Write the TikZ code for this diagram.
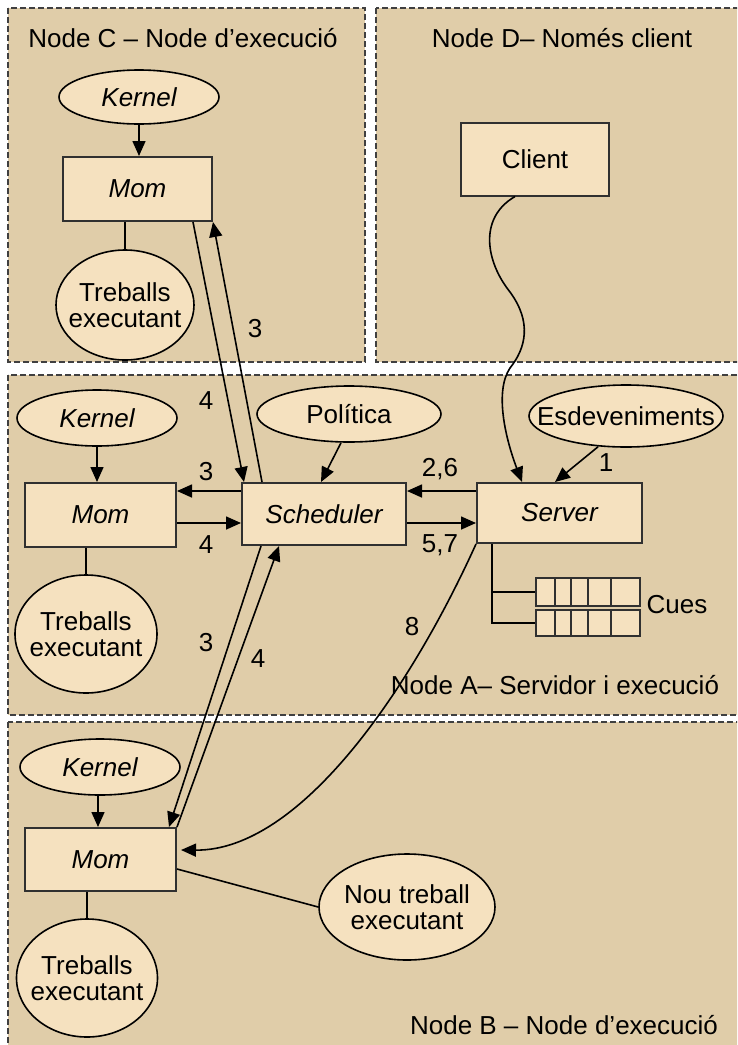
\documentclass[tikz,border=0pt]{standalone}
\usepackage{fontspec}
\setmainfont{Liberation Sans}
\usetikzlibrary{arrows.meta,shapes.geometric,calc}
\definecolor{panel}{HTML}{E0CDA9}
\definecolor{boxfill}{HTML}{F5E1BF}
\definecolor{edge}{HTML}{303030}
\begin{document}
\begin{tikzpicture}[x=1pt,y=-1pt,
  font=\fontsize{26}{29}\selectfont,
  panelbox/.style={draw=black!75, fill=panel, dash pattern=on 6pt off 3pt, line width=1.6pt},
  rectbox/.style={draw=edge, fill=boxfill, line width=2pt, inner sep=0pt},
  % the ellipse keeps its given size; its text is set as a centred label
  oval/.style={ellipse, draw=black, fill=boxfill, line width=1.6pt, inner sep=0pt,
    label={[inner sep=0pt, align=center]center:#1}},
  conn/.style={line width=1.6pt, draw=black},
  arr/.style={conn, -{Triangle[length=15pt,width=13pt]}},
  lbl/.style={inner sep=0pt},
  queue/.style={draw=edge, fill=boxfill, line width=2pt, inner sep=0pt, minimum width=104pt}
]
\useasboundingbox (0,0) rectangle (737,1045);
\clip (0,0) rectangle (737,1045);
\fill[white] (0,0) rectangle (737,1045);

% the four machines
\draw[panelbox] (8,8) rectangle (365,362);
\draw[panelbox] (376,8) rectangle (748,362);
\draw[panelbox] (8,375) rectangle (748,715);
\draw[panelbox] (8,722) rectangle (748,1060);

\node[lbl] (titleC) at (183,38) {Node C – Node d’execució};
\node[lbl] (titleD) at (562,38) {Node D– Només client};
\node[lbl] (titleA) at (555,685) {Node A– Servidor i execució};
\node[lbl] (titleB) at (564,1025) {Node B – Node d’execució};

% Node C
\node[oval={\itshape Kernel}, minimum width=160pt, minimum height=54pt] (kernelC) at (139,97) {};
\node[rectbox, minimum width=149pt, minimum height=64pt] (momC) at (137.5,189) {\itshape Mom};
\node[oval={Treballs\\[-3pt]executant}, minimum width=138pt, minimum height=110pt] (jobsC) at (125,305) {};
\draw[arr] (kernelC.south) -- (momC.north -| kernelC.south);
\draw[conn] (momC.south -| jobsC) -- (jobsC.north);

% Node D
\node[rectbox, minimum width=148pt, minimum height=73pt] (client) at (535,159) {Client};

% Node A
\node[oval={\itshape Kernel}, minimum width=160pt, minimum height=56pt] (kernelA) at (97,418) {};
\node[rectbox, minimum width=151pt, minimum height=64pt] (momA) at (100.5,515) {\itshape Mom};
\node[oval={Treballs\\[-3pt]executant}, minimum width=142pt, minimum height=118pt] (jobsA) at (86,634) {};
\draw[arr] (kernelA.south) -- (momA.north -| kernelA.south);
\draw[conn] (momA.south -| jobsA) -- (jobsA.north);

\node[oval={Política}, minimum width=184pt, minimum height=56pt] (policy) at (349,414) {};
\node[oval={Esdeveniments}, minimum width=194pt, minimum height=62pt] (events) at (626,416) {};
\node[rectbox, minimum width=164pt, minimum height=62pt] (sched) at (324,514) {\itshape Scheduler};
\node[rectbox, minimum width=165pt, minimum height=60pt] (server) at (559.5,513) {\itshape Server};

\draw[arr] ($(policy.south)+(-8,0)$) -- ($(sched.north)+(-3,0)$);
\draw[arr] ($(events.south)+(-28,-1)$) -- ($(server.north west)+(79,0)$);
\node[lbl] (n1) at (606,463) {1};

\draw[arr] ([yshift=-9pt]server.north west) -- ([yshift=-9pt]sched.north east);
\draw[arr] ([yshift=-41pt]sched.north east) -- ([yshift=-41pt]server.north west);
\node[lbl] (n26) at (440,469) {2,6};
\node[lbl] (n57) at (440,545) {5,7};

\draw[arr] ([yshift=-9pt]sched.north west) -- ([yshift=-9pt]momA.north east);
\draw[arr] ([yshift=-41pt]momA.north east) -- ([yshift=-41pt]sched.north west);
\node[lbl] (n3a) at (206,472) {3};
\node[lbl] (n4a) at (206,545) {4};

% queues
\node[queue, minimum height=28pt] (q1) at (588,592) {};
\node[queue, minimum height=26pt] (q2) at (588,623) {};
\foreach \q in {q1,q2}
  \foreach \dx in {20,36,53,76}
    \draw[draw=edge, line width=2pt] ($(\q.north west)+(\dx,0)$) -- ($(\q.south west)+(\dx,0)$);
\draw[conn] ([xshift=16pt]server.south west) |- (q2.west);
\draw[conn] ([xshift=16pt]server.south west) |- (q1.west);
\node[lbl] (cues) at (677,605) {Cues};

% Node B
\node[oval={\itshape Kernel}, minimum width=160pt, minimum height=56pt] (kernelB) at (100,767) {};
\node[rectbox, minimum width=151pt, minimum height=63pt] (momB) at (100.5,859.5) {\itshape Mom};
\node[oval={Treballs\\[-3pt]executant}, minimum width=141pt, minimum height=118pt] (jobsB) at (87,978) {};
\node[oval={Nou treball\\[-3pt]executant}, minimum width=176pt, minimum height=106pt] (newjob) at (407,907) {};
\draw[arr] (kernelB.south -| 98,0) -- (momB.north -| 98,0);
\draw[conn] (momB.south -| jobsB) -- (jobsB.north);
\draw[conn] ([yshift=-42pt]momB.north east) -- (newjob.west);

% Node C <-> Scheduler
\draw[arr] ($(momC.south east)+(-20,0)$) -- ($(sched.north west)+(3,0)$);
\draw[arr] ($(sched.north west)+(21,0)$) -- (momC.south east);
\node[lbl] (n4c) at (206,401) {4};
\node[lbl] (n3c) at (255,329) {3};

% Scheduler <-> Node B
\draw[arr] ($(sched.south west)+(20,0)$) -- ($(momB.north east)+(-8,0)$);
\draw[arr] (momB.north east) -- ($(sched.south west)+(38,0)$);
\node[lbl] (n3b) at (206,643) {3};
\node[lbl] (n4b) at (258,659) {4};

% client request to the server
\draw[arr] ($(client.south)+(-20,0)$)
  .. controls (478,218) and (486,262) .. (510,292)
  .. controls (532,322) and (526,348) .. (510,368)
  .. controls (494,392) and (506,440) .. ($(server.north west)+(46,0)$);

% job start on node B
\draw[arr] (server.south west) .. controls (410,690) and (300,851) .. ([xshift=4pt,yshift=-23pt]momB.north east);
\node[lbl] (n8) at (412,627) {8};
\end{tikzpicture}
\end{document}
